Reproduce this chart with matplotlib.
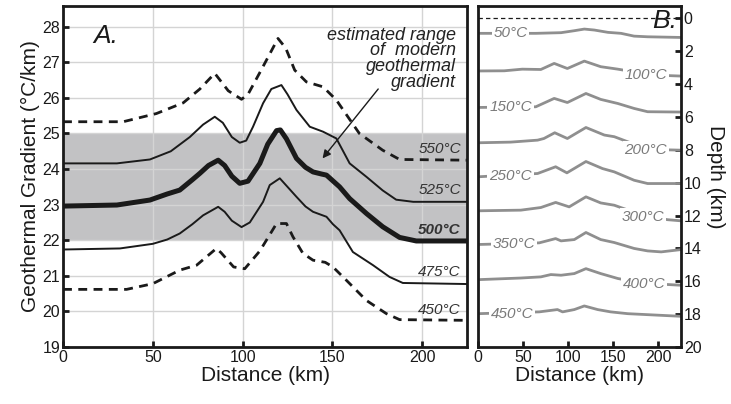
import matplotlib
matplotlib.use("Agg")
import matplotlib.pyplot as plt

plt.rcParams['font.family'] = ['Liberation Sans', 'DejaVu Sans']

# ---------------- Panel A data ----------------
x550 = [0, 33.5, 52, 66.9, 76.2, 84.5, 92, 99.4, 103, 110, 119.7, 124, 129, 135.5, 144.8, 152.2, 165, 178, 187.4, 225]
y550 = [25.33, 25.33, 25.56, 25.86, 26.25, 26.69, 26.20, 25.96, 26.10, 26.75, 27.67, 27.40, 26.78, 26.45, 26.31, 25.94, 25.00, 24.53, 24.27, 24.25]

x525 = [0, 30, 48.4, 60, 70.6, 78, 84.5, 89, 94, 98.4, 102, 105.8, 111.4, 116, 121.6, 125, 130, 137.4, 144.8, 152.2, 159.6, 169, 178, 185.5, 195, 225]
y525 = [24.16, 24.16, 24.27, 24.50, 24.90, 25.25, 25.47, 25.30, 24.90, 24.74, 24.80, 25.19, 25.85, 26.25, 26.36, 26.10, 25.66, 25.19, 25.05, 24.86, 24.16, 23.78, 23.40, 23.14, 23.08, 23.08]

x500 = [0, 30, 48.4, 58, 65, 72, 76.2, 81, 86.4, 90, 94, 98.4, 103, 109.6, 114, 118.9, 121, 124.4, 130, 135, 139.2, 144, 146.7, 154, 159.6, 169, 178, 187.4, 196.7, 225]
y500 = [22.96, 22.99, 23.13, 23.30, 23.41, 23.70, 23.88, 24.10, 24.25, 24.10, 23.80, 23.60, 23.66, 24.16, 24.70, 25.08, 25.10, 24.85, 24.30, 24.05, 23.92, 23.86, 23.83, 23.50, 23.17, 22.75, 22.38, 22.08, 21.98, 21.98]

x475 = [0, 31.7, 50, 58, 65, 72, 78, 86.4, 90, 94, 99.4, 104, 111.4, 115.1, 120.7, 125, 130, 135, 139.2, 146.7, 150.3, 154, 161.4, 172.6, 181.8, 189.2, 225]
y475 = [21.74, 21.77, 21.90, 22.02, 22.19, 22.45, 22.70, 22.94, 22.80, 22.55, 22.37, 22.50, 23.08, 23.55, 23.74, 23.50, 23.22, 22.95, 22.80, 22.66, 22.45, 22.28, 21.67, 21.30, 20.97, 20.80, 20.77]

x450 = [0, 35.4, 50, 65, 74.4, 85.4, 88, 95, 101.2, 109.6, 118.9, 124.4, 128, 133.6, 139.2, 146, 150.3, 157.7, 168.9, 180, 187.4, 225]
y450 = [20.62, 20.62, 20.78, 21.16, 21.30, 21.77, 21.65, 21.25, 21.20, 21.70, 22.47, 22.47, 22.10, 21.63, 21.44, 21.38, 21.25, 20.88, 20.31, 19.94, 19.77, 19.75]

labelsA = ["550°C", "525°C", "500°C", "475°C", "450°C"]
label_yA = [24.55, 23.42, 22.30, 21.12, 20.05]
band = (22.0, 25.0)

# ---------------- Panel B data ----------------
xb = {
    "50°C":  [0, 64, 92, 106.7, 117.8, 129, 144, 158.5, 173, 188, 225],
    "100°C": [0, 29, 49, 69.6, 84.4, 99, 117.8, 136, 155, 172, 190, 210, 225],
    "150°C": [0, 64, 84.4, 99, 119.6, 136, 155, 173, 188, 225],
    "200°C": [0, 36, 66, 73, 85, 99, 119.6, 140, 151, 168, 190, 210, 225],
    "250°C": [0, 66, 86, 98.5, 119.6, 138, 151, 173, 188, 225],
    "300°C": [0, 47.4, 69.6, 86, 101, 119.6, 136, 151, 168, 190, 210, 225],
    "350°C": [0, 67.8, 86, 92, 106.7, 119.6, 136, 151, 173, 188, 203, 225],
    "400°C": [0, 47.4, 69.6, 80.7, 92, 106.7, 119.6, 136, 155, 172, 195, 225],
    "450°C": [0, 67.8, 88, 93.7, 106.7, 117.8, 132.6, 147, 166, 188, 225],
}
db = {
    "50°C":  [0.91, 0.91, 0.87, 0.75, 0.65, 0.71, 0.85, 0.91, 1.08, 1.12, 1.16],
    "100°C": [3.20, 3.19, 3.09, 3.11, 2.74, 3.05, 2.60, 2.94, 3.09, 3.25, 3.40, 3.48, 3.51],
    "150°C": [5.42, 5.38, 4.87, 5.12, 4.57, 4.93, 5.18, 5.48, 5.68, 5.70],
    "200°C": [7.57, 7.53, 7.41, 7.31, 6.96, 7.31, 6.64, 7.10, 7.20, 7.55, 7.85, 8.00, 8.02],
    "250°C": [9.64, 9.44, 9.03, 9.40, 8.71, 9.14, 9.34, 9.85, 10.05, 10.05],
    "300°C": [11.71, 11.67, 11.51, 11.20, 11.47, 10.86, 11.23, 11.37, 11.70, 12.05, 12.25, 12.32],
    "350°C": [13.76, 13.66, 13.40, 13.54, 13.46, 13.03, 13.46, 13.64, 14.00, 14.15, 14.21, 14.07],
    "400°C": [15.90, 15.80, 15.73, 15.59, 15.63, 15.53, 15.23, 15.53, 15.83, 16.00, 16.15, 16.24],
    "450°C": [17.97, 17.86, 17.72, 17.86, 17.72, 17.50, 17.72, 17.86, 17.97, 18.03, 18.13],
}
label_xB = [36, 186, 36, 186, 36, 183, 40, 184, 38]
label_dB = [0.91, 3.45, 5.40, 8.00, 9.62, 12.08, 13.74, 16.14, 17.97]

# ---------------- Figure ----------------
fig = plt.figure(figsize=(7.31, 4.04), dpi=100)
axA = fig.add_axes([0.0862, 0.141, 0.5528, 0.844])
axB = fig.add_axes([0.654, 0.141, 0.2776, 0.844])

dark = "#1a1a1a"
axA.axhspan(band[0], band[1], color="#c2c2c4", zorder=0, lw=0)
axA.grid(True, color="#d4d4d4", lw=1.0, zorder=0.5)
axA.set_axisbelow(True)

dash = (0, (3.2, 2.3))
axA.plot(x550, y550, color=dark, lw=2.0, ls=dash, zorder=3)
axA.plot(x525, y525, color=dark, lw=1.4, zorder=3)
axA.plot(x500, y500, color=dark, lw=3.6, zorder=3, solid_capstyle="butt", solid_joinstyle="round")
axA.plot(x475, y475, color=dark, lw=1.4, zorder=3)
axA.plot(x450, y450, color=dark, lw=2.0, ls=dash, zorder=3)

for lab, yy in zip(labelsA, label_yA):
    axA.text(221.5, yy, lab, ha="right", va="center", fontsize=11,
             style="italic", color="#333333",
             fontweight="bold" if lab == "500°C" else "normal", zorder=4)

axA.text(17, 27.75, "A.", fontsize=19, style="italic", ha="left", va="center", color=dark)
axA.text(219, 28.0, "estimated range\nof  modern\ngeothermal\ngradient",
         ha="right", va="top", fontsize=13, style="italic", color="#222222",
         linespacing=0.9)
axA.annotate("", xy=(144.5, 24.3), xytext=(175.5, 26.25),
             arrowprops=dict(arrowstyle="-|>", color=dark, lw=1.0,
                             mutation_scale=12, shrinkA=0, shrinkB=0))

axA.set_xlim(0, 225)
axA.set_ylim(19, 28.58)
axA.set_xticks([0, 50, 100, 150, 200])
axA.set_yticks(range(19, 29))
axA.tick_params(direction="in", length=4, width=2, labelsize=11.5, pad=2, colors=dark)
axA.set_xlabel("Distance (km)", fontsize=15, labelpad=1, color=dark)
axA.set_ylabel("Geothermal Gradient (°C/km)", fontsize=15, labelpad=2, color=dark)
for s in axA.spines.values():
    s.set_linewidth(2)
    s.set_color(dark)

# Panel B
axB.axhline(0, color=dark, lw=0.9, ls=(0, (3.5, 2.5)))
for (lab, xs), lx, ld in zip(xb.items(), label_xB, label_dB):
    axB.plot(xs, db[lab], color="#8f8f8f", lw=2.0, zorder=2)
    axB.text(lx, ld, lab, ha="center", va="center", fontsize=11, style="italic",
             color="#7a7a7a", zorder=3,
             bbox=dict(boxstyle="square,pad=0.12", fc="white", ec="none"))
axB.text(207, 0.15, "B.", fontsize=19, style="italic", ha="center", va="center", color=dark,
         zorder=4)

axB.set_xlim(0, 225)
axB.set_ylim(20, -0.75)
axB.set_xticks([0, 50, 100, 150, 200])
axB.set_yticks(range(0, 21, 2))
axB.yaxis.tick_right()
axB.yaxis.set_label_position("right")
axB.tick_params(direction="in", length=4, width=2, labelsize=11.5, pad=2, colors=dark)
axB.set_xlabel("Distance (km)", fontsize=15, labelpad=1, color=dark)
axB.set_ylabel("Depth (km)", fontsize=15, rotation=270, labelpad=17, color=dark)
for s in axB.spines.values():
    s.set_linewidth(2)
    s.set_color(dark)

fig.savefig("out.png", dpi=100)
